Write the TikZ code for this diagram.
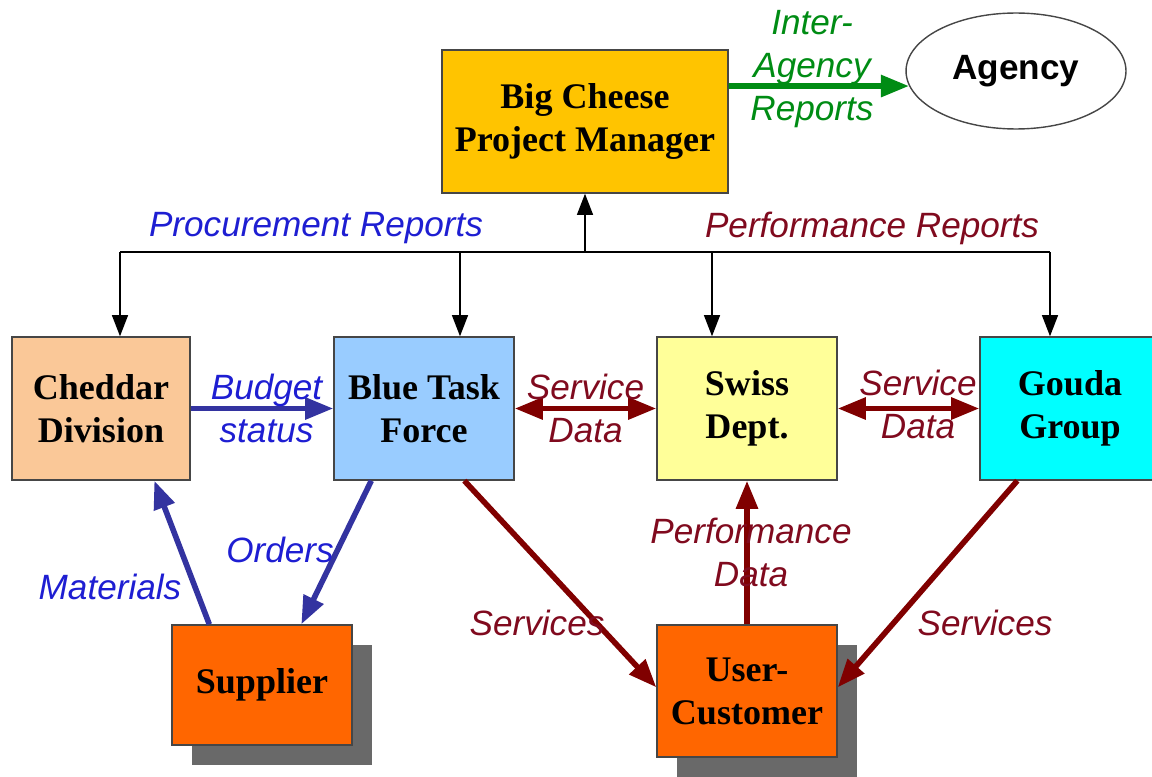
\documentclass[tikz,border=0pt]{standalone}
\usepackage{fontspec}
\setmainfont{Liberation Serif}
\setsansfont{Liberation Sans}
\usetikzlibrary{calc}
\usetikzlibrary{arrows.meta}
\usetikzlibrary{shapes.geometric}
\usetikzlibrary{shadows}
\definecolor{boxgray}{RGB}{70,70,70}
\definecolor{shadowgray}{RGB}{105,105,105}
\definecolor{pmyellow}{RGB}{255,196,0}
\definecolor{cheddarfill}{RGB}{250,200,152}
\definecolor{bluefill}{RGB}{153,204,255}
\definecolor{swissfill}{RGB}{255,255,153}
\definecolor{goudafill}{RGB}{0,255,255}
\definecolor{orangefill}{RGB}{255,102,0}
\definecolor{arrowblue}{RGB}{51,51,160}
\definecolor{textblue}{RGB}{30,30,210}
\definecolor{darkred}{RGB}{128,0,0}
\definecolor{textred}{RGB}{128,10,30}
\definecolor{agreen}{RGB}{0,140,20}
\tikzset{%
  mybox/.style={draw=boxgray, line width=0.8pt, align=center, inner sep=0pt,
    minimum width=3.6cm, minimum height=2.86cm,
    font=\fontsize{20.5}{24.5}\selectfont\bfseries},
  myshadow/.style={drop shadow={shadow xshift=0.4cm, shadow yshift=-0.4cm,
    fill=shadowgray, opacity=1}},
  mylabel/.style={align=center, inner sep=0pt,
    font=\fontsize{20}{24.5}\selectfont\sffamily\itshape},
  myline/.style={-{Triangle[length=12pt,width=9pt]}, line width=1pt},
  myedge/.style={-{Triangle[length=16pt,width=12pt]}, line width=3.2pt},
  mytwoway/.style={{Triangle[length=16pt,width=12pt]}-{Triangle[length=16pt,width=12pt]},
    line width=3.2pt}
}
\begin{document}
\begin{tikzpicture}[x=0.02cm, y=-0.02cm]
  \useasboundingbox (0,0) rectangle (1152,777);
  % top row
  \node[mybox, fill=pmyellow, minimum width=5.72cm] (pm) at (585,121.5) {Big Cheese\\Project Manager};
  \node[ellipse, draw=boxgray, line width=0.8pt, minimum width=4.4cm, minimum height=2.32cm,
    font=\fontsize{20}{24}\selectfont\sffamily\bfseries] (agency) at (1016,71) {Agency};
  \draw [myedge, draw=agreen] ($(pm.east)+(0,-35.5)$) -- (agency.188);
  \node[mylabel, text=agreen] (interag) at (812,69) {Inter-\\Agency\\Reports};
  % second row
  \node[mybox, fill=cheddarfill, minimum width=3.56cm] (cheddar) at (101,408.5) {Cheddar\\Division};
  \node[mybox, fill=bluefill] (blue) at (424,408.5) {Blue Task\\Force};
  \node[mybox, fill=swissfill] (swiss) at (747,408.5) {Swiss\\Dept.};
  \node[mybox, fill=goudafill] (gouda) at (1070,408.5) {Gouda\\Group};
  % report lines
  \coordinate (bus) at (585,252);
  \draw [line width=1pt] (120,252) -- (1050,252);
  \draw [myline] (bus) -- (pm.south);
  \foreach \x/\n in {120/cheddar,460/blue,712/swiss,1050/gouda}
    \draw [myline] (\x,252) -- (\x,252 |- \n.north);
  \node[mylabel, text=textblue] (procrep) at (316,228) {Procurement Reports};
  \node[mylabel, text=textred] (perfrep) at (872,228) {Performance Reports};
  % third row
  \node[mybox, myshadow, fill=orangefill, minimum height=2.4cm] (supplier) at (262,685) {Supplier};
  \node[mybox, myshadow, fill=orangefill, minimum height=2.64cm] (user) at (747,691) {User-\\Customer};
  % flows
  \draw [myedge, draw=arrowblue] (cheddar) -- (blue)
    node [midway, mylabel, text=textblue, xshift=0.09cm] (budget) {Budget\\status};
  \draw [mytwoway, draw=darkred] (blue) -- (swiss)
    node [midway, mylabel, text=textred] (sdata1) {Service\\Data};
  \draw [mytwoway, draw=darkred] (swiss) -- (gouda)
    node [midway, mylabel, text=textred, xshift=0.19cm, yshift=0.08cm] (sdata2) {Service\\Data};
  \draw [myedge, draw=arrowblue] ($(supplier.north west)+(38,0)$) -- ($(cheddar.south west)+(143,0)$);
  \draw [myedge, draw=arrowblue] ($(blue.south west)+(38,0)$) -- ($(supplier.north west)+(130,0)$);
  \draw [myedge, draw=darkred] ($(blue.south west)+(131,0)$) -- ($(user.north west)+(0,63)$);
  \draw [myedge, draw=darkred] ($(gouda.south west)+(38,0)$) -- ($(user.north east)+(0,63)$);
  \draw [myedge, draw=darkred] (user) -- (swiss)
    node [midway, mylabel, text=textred, xshift=0.08cm] (pdata) {Performance\\Data};
  \node[mylabel, text=textblue] (orders) at (280,550) {Orders};
  \node[mylabel, text=textblue] (materials) at (110,587) {Materials};
  \node[mylabel, text=textred] (serv1) at (537,623) {Services};
  \node[mylabel, text=textred] (serv2) at (985,623) {Services};
\end{tikzpicture}
\end{document}
